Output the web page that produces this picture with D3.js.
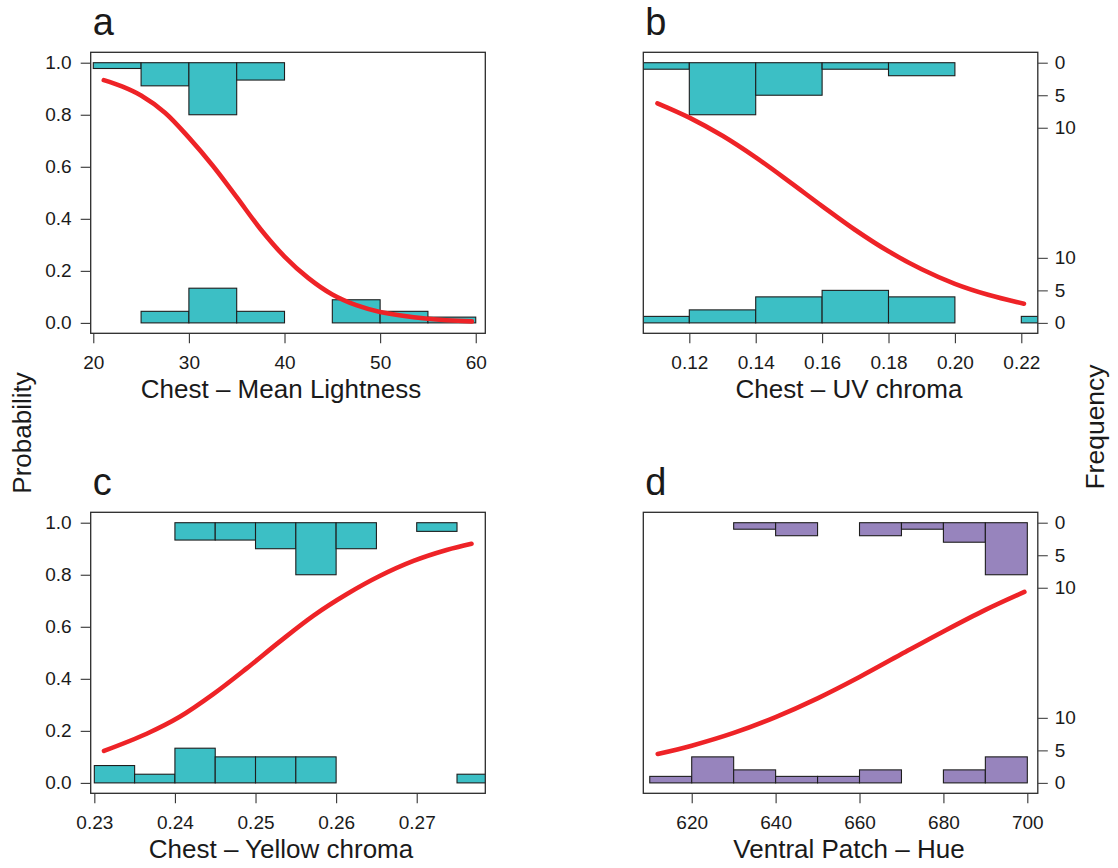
<!DOCTYPE html>
<html><head><meta charset="utf-8">
<script src="https://cdn.jsdelivr.net/npm/d3@7"></script>
<style>
body{margin:0;background:#fff;}
text{font-family:"Liberation Sans",Arial,Helvetica,sans-serif;fill:#1a1a1a;}
</style>
</head><body>
<svg id="chart" width="1118" height="868"></svg>
<script>
// ---------- data ----------
const probTicks = [0, 0.2, 0.4, 0.6, 0.8, 1.0];
const freqTicks = [0, 5, 10];

// a: Chest – Mean Lightness
const aXTicks = [20, 30, 40, 50, 60];
const aXLimits = [19.73, 61.0];
const aBinWidth = 5;
const aTopBins = [20, 25, 30, 35];
const aTopCounts = [1, 4, 9, 3];
const aBottomBins = [25, 30, 35, 45, 50, 55];
const aBottomCounts = [2, 6, 2, 4, 2, 1];
const aCurveX = [21.1, 23, 25, 27.5, 30, 32.5, 35, 37.5, 40, 42.5, 45, 47.5, 50, 55, 59.6];
const aCurveP = [0.933, 0.909, 0.874, 0.808, 0.712, 0.604, 0.483, 0.360, 0.255, 0.172, 0.109, 0.068, 0.042, 0.016, 0.006];

// b: Chest – UV chroma
const bXTicks = [0.12, 0.14, 0.16, 0.18, 0.20, 0.22];
const bXLimits = [0.10614, 0.22497];
const bBinWidth = 0.02;
const bTopBins = [0.10, 0.12, 0.14, 0.16, 0.18];
const bTopCounts = [1, 8, 5, 1, 2];
const bBottomBins = [0.10, 0.12, 0.14, 0.16, 0.18, 0.22];
const bBottomCounts = [1, 2, 4, 5, 4, 1];
const bCurveX = [0.1104, 0.12, 0.13, 0.14, 0.15, 0.16, 0.17, 0.18, 0.19, 0.20, 0.21, 0.2208];
const bCurveP = [0.844, 0.789, 0.719, 0.636, 0.544, 0.449, 0.357, 0.275, 0.206, 0.150, 0.108, 0.074];

// c: Chest – Yellow chroma
const cXTicks = [0.23, 0.24, 0.25, 0.26, 0.27];
const cXLimits = [0.22955, 0.27851];
const cBinWidth = 0.005;
const cTopBins = [0.240, 0.245, 0.250, 0.255, 0.260, 0.270];
const cTopCounts = [2, 2, 3, 6, 3, 1];
const cBottomBins = [0.230, 0.235, 0.240, 0.245, 0.250, 0.255, 0.275];
const cBottomCounts = [2, 1, 4, 3, 3, 3, 1];
const cCurveX = [0.2312, 0.2365, 0.2406, 0.2448, 0.2489, 0.2530, 0.2572, 0.2613, 0.2654, 0.2696, 0.2737, 0.2768];
const cCurveP = [0.123, 0.189, 0.254, 0.342, 0.440, 0.543, 0.643, 0.725, 0.795, 0.853, 0.895, 0.919];

// d: Ventral Patch – Hue
const dXTicks = [620, 640, 660, 680, 700];
const dXLimits = [608.46, 702.5];
const dBinWidth = 10;
const dTopBins = [630, 640, 660, 670, 680, 690];
const dTopCounts = [1, 2, 2, 1, 3, 8];
const dBottomBins = [610, 620, 630, 640, 650, 660, 680, 690];
const dBottomCounts = [1, 4, 2, 1, 1, 2, 2, 4];
const dCurveX = [611.9, 620, 630, 640, 650, 660, 670, 680, 690, 699.3];
const dCurveP = [0.111, 0.143, 0.192, 0.253, 0.325, 0.407, 0.495, 0.582, 0.665, 0.734];

const panelLetters = ["a", "b", "c", "d"];
const xTitles = ["Chest \u2013 Mean Lightness", "Chest \u2013 UV chroma", "Chest \u2013 Yellow chroma", "Ventral Patch \u2013 Hue"];
const yTitleLeft = "Probability";
const yTitleRight = "Frequency";

// ---------- build ----------
const panels = [
  {letter: panelLetters[0], title: xTitles[0], xlim: aXLimits, ticks: aXTicks, fmt: d3.format("d"), bw: aBinWidth,
   topBins: aTopBins, topCounts: aTopCounts, botBins: aBottomBins, botCounts: aBottomCounts, cx: aCurveX, cp: aCurveP, fill: "#3cbfc5"},
  {letter: panelLetters[1], title: xTitles[1], xlim: bXLimits, ticks: bXTicks, fmt: d3.format(".2f"), bw: bBinWidth,
   topBins: bTopBins, topCounts: bTopCounts, botBins: bBottomBins, botCounts: bBottomCounts, cx: bCurveX, cp: bCurveP, fill: "#3cbfc5"},
  {letter: panelLetters[2], title: xTitles[2], xlim: cXLimits, ticks: cXTicks, fmt: d3.format(".2f"), bw: cBinWidth,
   topBins: cTopBins, topCounts: cTopCounts, botBins: cBottomBins, botCounts: cBottomCounts, cx: cCurveX, cp: cCurveP, fill: "#3cbfc5"},
  {letter: panelLetters[3], title: xTitles[3], xlim: dXLimits, ticks: dXTicks, fmt: d3.format("d"), bw: dBinWidth,
   topBins: dTopBins, topCounts: dTopCounts, botBins: dBottomBins, botCounts: dBottomCounts, cx: dCurveX, cp: dCurveP, fill: "#9784bd"}
];

const svg = d3.select("#chart");
svg.append("rect").attr("width", 1118).attr("height", 868).attr("fill", "#fff");

const cols = [[90.7, 485.3], [643.3, 1037.8]];
const rows = [[52.3, 333.3], [512.3, 793.3]];
const titleCenters = [281, 849];
const boxColor = "#2b2b2b";

panels.forEach((p, i) => {
  const [x0, x1] = cols[i % 2];
  const [y0, y1] = rows[Math.floor(i / 2)];
  const x = d3.scaleLinear().domain(p.xlim).range([x0, x1]);
  const y = d3.scaleLinear().domain([-0.04, 1.04]).range([y1, y0]);
  const maxCount = d3.max(p.topCounts.concat(p.botCounts));
  const s = 0.2 / maxCount;

  const g = svg.append("g");
  const clipId = "clip" + i;
  g.append("clipPath").attr("id", clipId).append("rect")
    .attr("x", x0).attr("y", y0).attr("width", x1 - x0).attr("height", y1 - y0);
  const inner = g.append("g").attr("clip-path", `url(#${clipId})`);

  const bot = p.botBins.map((b, k) => ({b, c: p.botCounts[k]}));
  const top = p.topBins.map((b, k) => ({b, c: p.topCounts[k]}));

  inner.selectAll("rect.bot").data(bot).enter().append("rect")
    .attr("x", d => x(d.b)).attr("width", d => x(d.b + p.bw) - x(d.b))
    .attr("y", d => y(d.c * s)).attr("height", d => y(0) - y(d.c * s))
    .attr("fill", p.fill).attr("stroke", "#1e1e1e").attr("stroke-width", 1.1);
  inner.selectAll("rect.top").data(top).enter().append("rect")
    .attr("x", d => x(d.b)).attr("width", d => x(d.b + p.bw) - x(d.b))
    .attr("y", y(1)).attr("height", d => y(1 - d.c * s) - y(1))
    .attr("fill", p.fill).attr("stroke", "#1e1e1e").attr("stroke-width", 1.1);

  const pts = p.cx.map((v, k) => [v, p.cp[k]]);
  inner.append("path").datum(pts)
    .attr("d", d3.line().x(d => x(d[0])).y(d => y(d[1])).curve(d3.curveCatmullRom.alpha(0.5)))
    .attr("fill", "none").attr("stroke", "#ee2327").attr("stroke-width", 4.6).attr("stroke-linecap", "round");

  g.append("rect").attr("x", x0).attr("y", y0).attr("width", x1 - x0).attr("height", y1 - y0)
    .attr("fill", "none").attr("stroke", boxColor).attr("stroke-width", 1.3);

  // bottom axis
  const ax = g.append("g").attr("transform", `translate(0,${y1})`)
    .call(d3.axisBottom(x).tickValues(p.ticks).tickFormat(p.fmt).tickSize(10).tickPadding(12));
  ax.select(".domain").remove();
  ax.selectAll("line").attr("stroke", "#333").attr("stroke-width", 1.1);
  ax.selectAll("text").attr("font-size", 19).attr("fill", "#1a1a1a")
    .style("font-family", '"Liberation Sans",Arial,sans-serif');

  if (i % 2 === 0) {
    const ay = g.append("g").attr("transform", `translate(${x0},0)`)
      .call(d3.axisLeft(y).tickValues(probTicks).tickFormat(d3.format(".1f")).tickSize(10).tickPadding(9));
    ay.select(".domain").remove();
    ay.selectAll("line").attr("stroke", "#333").attr("stroke-width", 1.1);
    ay.selectAll("text").attr("font-size", 19).attr("fill", "#1a1a1a")
      .style("font-family", '"Liberation Sans",Arial,sans-serif');
  } else {
    const fTop = d3.scaleLinear().domain([0, 10]).range([y(1), y(1 - 10 * s)]);
    const fBot = d3.scaleLinear().domain([0, 10]).range([y(0), y(10 * s)]);
    [fTop, fBot].forEach(sc => {
      const ar = g.append("g").attr("transform", `translate(${x1},0)`)
        .call(d3.axisRight(sc).tickValues(freqTicks).tickFormat(d3.format("d")).tickSize(10).tickPadding(7));
      ar.select(".domain").remove();
      ar.selectAll("line").attr("stroke", "#444").attr("stroke-width", 1.1);
      ar.selectAll("text").attr("font-size", 19).attr("fill", "#1a1a1a")
        .style("font-family", '"Liberation Sans",Arial,sans-serif');
    });
  }

  g.append("text").attr("x", titleCenters[i % 2]).attr("y", y1 + 65)
    .attr("text-anchor", "middle").attr("font-size", 26).text(p.title);

  g.append("text").attr("x", x0 + 2).attr("y", y0 - 17.5)
    .attr("font-size", 38).text(p.letter);
});

svg.append("text").attr("transform", "translate(31,433) rotate(-90)")
  .attr("text-anchor", "middle").attr("font-size", 26).text(yTitleLeft);
svg.append("text").attr("transform", "translate(1104,427) rotate(-90)")
  .attr("text-anchor", "middle").attr("font-size", 26.5).text(yTitleRight);
</script>
</body></html>
